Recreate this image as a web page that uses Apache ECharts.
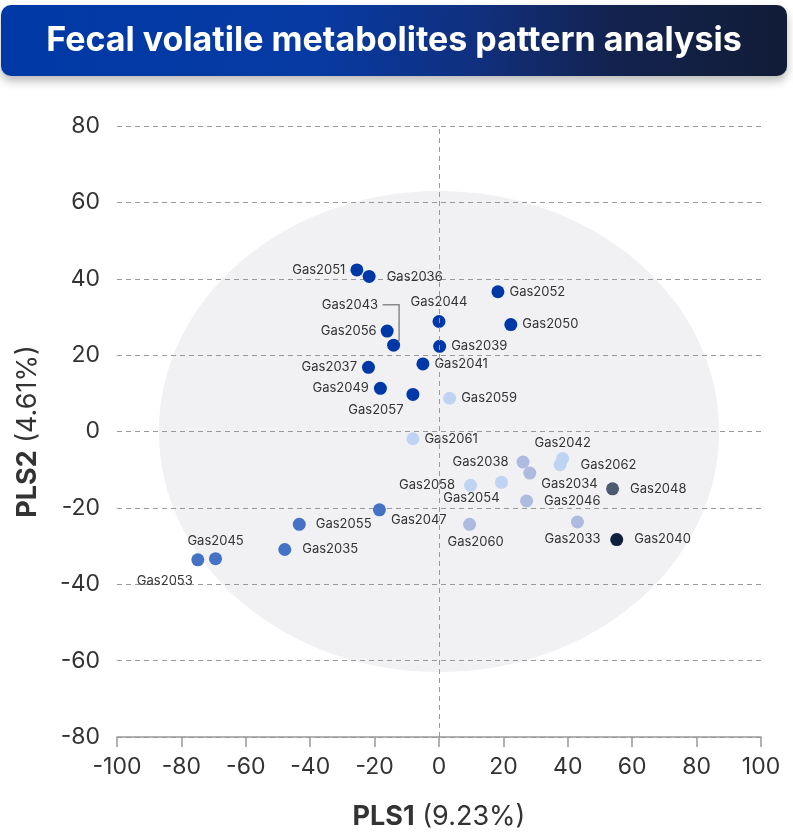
<!DOCTYPE html>
<html><head><meta charset="utf-8">
<script src="https://cdn.jsdelivr.net/npm/echarts@6/dist/echarts.min.js"></script>
<style>html,body{margin:0;padding:0;background:#fff}#c{width:793px;height:837px}</style>
</head><body><div id="c"></div>
<script>
const chartTitle = 'Fecal volatile metabolites pattern analysis';
const pointNames = ['Gas2051','Gas2036','Gas2052','Gas2044','Gas2050','Gas2056','Gas2043','Gas2039','Gas2037','Gas2041','Gas2049','Gas2057','Gas2059',
  'Gas2061','Gas2042','Gas2062','Gas2038','Gas2034','Gas2058','Gas2054','Gas2046','Gas2048','Gas2047','Gas2060','Gas2033','Gas2040','Gas2055','Gas2035','Gas2045','Gas2053'];
const pls1 = [-25.5,-21.7,18.3,0.0,22.3,-16.1,-14.1,0.2,-21.9,-5.0,-18.2,-8.1,3.3,
  -8.1,38.4,37.6,26.1,28.2,9.8,19.4,27.2,53.9,-18.5,9.5,43.0,55.2,-43.4,-47.9,-69.4,-74.9];
const pls2 = [42.3,40.6,36.6,28.8,28.0,26.3,22.6,22.3,16.8,17.7,11.3,9.7,8.7,
  -1.9,-7.1,-8.7,-8.0,-10.9,-14.1,-13.3,-18.2,-15.0,-20.5,-24.3,-23.7,-28.3,-24.3,-30.9,-33.3,-33.6];
const pointGroup = [0,0,0,0,0,0,0,0,0,0,0,0,2,
  2,2,2,3,3,2,2,3,4,1,3,3,5,1,1,1,1];
const groupColors = ['#0038A8','#4472C4','#BFD4F2','#AEBBE0','#4D5B70','#0E1F3F'];
const ellipseSpec = [0, 0, 87, 63]; // centre x, centre y, radius x, radius y (data units)
const xAxisName = ['PLS1', '(9.23%)'];
const yAxisName = ['PLS2', '(4.61%)'];

// label placement (style only)
const labelPlace = {
  Gas2051:{p:'left'}, Gas2036:{p:'right',d:11,o:[0,1]}, Gas2052:{p:'right'}, Gas2044:{p:'top',d:6},
  Gas2050:{p:'right'}, Gas2056:{p:'left',d:4}, Gas2043:{p:'left',o:[-4,-40]}, Gas2039:{p:'right'},
  Gas2037:{p:'left'}, Gas2041:{p:'right'}, Gas2049:{p:'left'}, Gas2057:{p:'bottom',o:[-37,-2]},
  Gas2059:{p:'right'}, Gas2061:{p:'right'}, Gas2042:{p:'top',d:3}, Gas2062:{p:'right',d:14},
  Gas2038:{p:'left',d:8}, Gas2034:{p:'right',o:[0,11]}, Gas2058:{p:'left',d:9}, Gas2054:{p:'bottom',o:[-30,-2]},
  Gas2046:{p:'right',d:11}, Gas2048:{p:'right',d:11}, Gas2047:{p:'right',o:[0,10]}, Gas2060:{p:'bottom',o:[6,0]},
  Gas2033:{p:'bottom',o:[-5,-1]}, Gas2040:{p:'right',d:11}, Gas2055:{p:'right',d:10}, Gas2035:{p:'right',d:11},
  Gas2045:{p:'top'}, Gas2053:{p:'bottom',o:[-33,3]}
};

const FONT = 'Inter';
const scatterData = pointNames.map((n, i) => {
  const lp = labelPlace[n] || {p:'right'};
  return {
    name: n,
    value: [pls1[i], pls2[i]],
    itemStyle: {color: groupColors[pointGroup[i]], opacity: 1},
    label: {position: lp.p, distance: lp.d != null ? lp.d : 5, offset: lp.o || [0,0]}
  };
});
const leaderIdx = pointNames.indexOf('Gas2043');

const chart = echarts.init(document.getElementById('c'), null, {renderer:'canvas'});
chart.setOption({
  animation: false,
  textStyle: {fontFamily: FONT},
  graphic: [
    {type:'rect', z:10, shape:{x:1, y:5, width:786, height:71, r:10},
     style:{fill: new echarts.graphic.LinearGradient(0,0,1,0.3,[
        {offset:0,color:'#0039A6'},{offset:0.4,color:'#073AA3'},{offset:0.6,color:'#10307F'},{offset:0.78,color:'#13234F'},{offset:1,color:'#111C36'}]),
       shadowBlur:10, shadowOffsetY:5, shadowColor:'rgba(0,0,0,0.28)'}},
    {type:'text', z:11, x:394, y:41, style:{text:chartTitle, fill:'#fff', font:'bold 34px Inter', align:'center', verticalAlign:'middle'}}
  ],
  grid: {left:117, right:32, top:126, bottom:100, containLabel:false},
  xAxis: {
    type:'value', min:-100, max:100, interval:20,
    name: '{b|' + xAxisName[0] + '}{n| ' + xAxisName[1] + '}',
    nameLocation:'middle', nameGap:66,
    nameTextStyle:{rich:{b:{fontSize:27, fontWeight:'bold', color:'#333', fontFamily:FONT}, n:{fontSize:27, color:'#333', fontFamily:FONT}}},
    axisLine:{show:true, onZero:false, lineStyle:{color:'#999', width:1.5}},
    axisTick:{show:true, length:10, lineStyle:{color:'#999', width:1.5}},
    axisLabel:{color:'#333', fontSize:23, margin:19, fontFamily:FONT},
    splitLine:{show:false}
  },
  yAxis: {
    type:'value', min:-80, max:80, interval:20,
    name: '{b|' + yAxisName[0] + '}{n| ' + yAxisName[1] + '}',
    nameLocation:'middle', nameGap:76, nameRotate:90,
    nameTextStyle:{rich:{b:{fontSize:27, fontWeight:'bold', color:'#333', fontFamily:FONT}, n:{fontSize:27, color:'#333', fontFamily:FONT}}},
    axisLine:{show:false},
    axisTick:{show:false},
    axisLabel:{color:'#333', fontSize:23, margin:17, fontFamily:FONT},
    splitLine:{show:true, lineStyle:{color:'#999', type:[5,4], width:1}}
  },
  series: [
    {
      type:'custom', z:-1, silent:true,
      data:[ellipseSpec],
      renderItem: function(params, api){
        const c = api.coord([api.value(0), api.value(1)]);
        const s = api.size([api.value(2), api.value(3)]);
        return {type:'circle', x:c[0], y:c[1], scaleX:s[0], scaleY:s[1], shape:{cx:0, cy:0, r:1}, style:{fill:'#F1F1F4'}};
      }
    },
    {
      type:'custom', silent:true, z:3,
      data:[[pls1[leaderIdx], pls2[leaderIdx]]],
      renderItem: function(params, api){
        const p = api.coord([api.value(0), api.value(1)]);
        return {type:'polyline', shape:{points:[[p[0]-11, p[1]-40.5],[p[0]+5.5, p[1]-40.5],[p[0]+5.5, p[1]-4]]},
          style:{stroke:'#8a8a8a', lineWidth:1.5, fill:null}};
      }
    },
    {
      type:'scatter', z:4, symbolSize:13,
      data: scatterData,
      label:{show:true, formatter:'{b}', color:'#333', fontSize:13, fontFamily:FONT},
      markLine:{silent:true, symbol:['none','none'], label:{show:false},
        lineStyle:{color:'#999', type:[5,4], width:1}, data:[{xAxis:0}]}
    }
  ]
});
</script></body></html>
